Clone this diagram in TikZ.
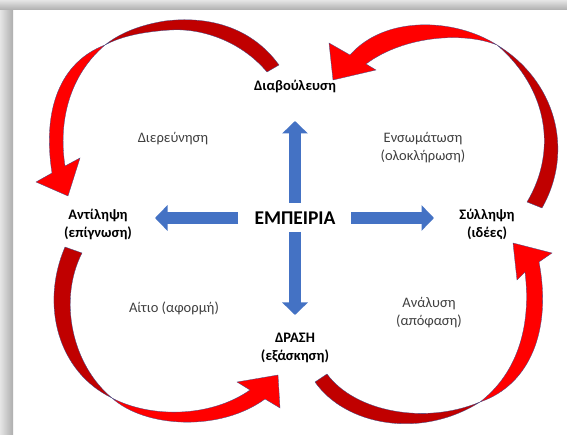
\documentclass[tikz,border=0pt]{standalone}
\usepackage{fontspec}
\setmainfont{Carlito}
\usetikzlibrary{arrows.meta}
\definecolor{blu}{HTML}{4472C4}
\definecolor{dred}{HTML}{C00000}
\definecolor{bred}{HTML}{FF0000}
\definecolor{edgec}{HTML}{3B4E8C}
\tikzset{
 lbl/.style={font=\fontsize{14.5}{17.5}\selectfont\bfseries, align=center, inner sep=0pt},
 sub/.style={font=\fontsize{14.5}{17.5}\selectfont, text=black!75, align=center, inner sep=0pt},
 big/.style={font=\fontsize{19.5}{22}\selectfont\bfseries, inner sep=0pt},
 bluearr/.style={draw=blu, line width=12.5pt, -{Triangle[width=25pt,length=12.5pt]}},
 back/.style={fill=dred, draw=edgec, line width=0.3pt},
 front/.style={fill=bred, draw=edgec, line width=0.3pt},
}
\begin{document}
\begin{tikzpicture}[x=1pt,y=-1pt]
\useasboundingbox (0,0) rectangle (567,435);
\fill[white] (0,0) rectangle (567,435);
\shade[left color=black!10, right color=black!32] (0,0) rectangle (13,435);
\shade[top color=black!10, bottom color=black!32] (0,0) rectangle (567,10);

% labels
\node[lbl] (dia) at (295,86) {Διαβούλευση};
\node[sub] (dier) at (173,139) {Διερεύνηση};
\node[sub] (enso) at (423,147.5) {Ενσωμάτωση\\(ολοκλήρωση)};
\node[lbl] (ant) at (98,224.5) {Αντίληψη\\(επίγνωση)};
\node[big] (emp) at (295,218) {ΕΜΠΕΙΡΙΑ};
\node[lbl] (syl) at (487,224.5) {Σύλληψη\\(ιδέες)};
\node[sub] (ait) at (174,308) {Αίτιο (αφορμή)};
\node[sub] (ana) at (429,312.5) {Ανάλυση\\(απόφαση)};
\node[lbl] (dra) at (295,348) {ΔΡΑΣΗ\\(εξάσκηση)};

% blue arrows
\coordinate (upS) at (295,203); \coordinate (upT) at (295,121);
\coordinate (dnS) at (295,232); \coordinate (dnT) at (295,315);
\coordinate (lfS) at (238,218); \coordinate (lfT) at (155,218);
\coordinate (rtS) at (351,218); \coordinate (rtT) at (434,218);
\draw[bluearr] (upS) -- (upT);
\draw[bluearr] (dnS) -- (dnT);
\draw[bluearr] (lfS) -- (lfT);
\draw[bluearr] (rtS) -- (rtT);

% top-left curved arrow
\path[back] (279,65) .. controls (250,25) and (205,16) .. (165,21) .. controls (140,25) and (120,33) .. (105,45)
  .. controls (120,37) and (140,32) .. (170,30) .. controls (200,28) and (240,40) .. (267,72) -- cycle;
\path[front] (105,45) .. controls (60,62) and (42,110) .. (52,173) -- (36,182) -- (68,196) -- (80,158) -- (65,166)
  .. controls (58,120) and (70,75) .. (105,45) -- cycle;

% top-right curved arrow
\path[back] (542,208) .. controls (575,150) and (555,80) .. (497,45) .. controls (547,88) and (558,150) .. (527,202) -- cycle;
\path[front] (497,45) .. controls (455,18) and (385,15) .. (350,55) -- (329,43) -- (333,80) -- (376,70) -- (366,64)
  .. controls (405,35) and (465,32) .. (497,45) -- cycle;

% bottom-left curved arrow
\path[back] (65,247) .. controls (40,305) and (58,372) .. (112,398) .. controls (72,365) and (58,300) .. (82,253) -- cycle;
\path[front] (112,398) .. controls (145,428) and (220,432) .. (265,399) -- (280,408) -- (278,375) -- (237,382) -- (250,390)
  .. controls (210,418) and (150,418) .. (112,398) -- cycle;

% bottom-right curved arrow
\path[back] (315,382) .. controls (345,425) and (420,440) .. (480,402) .. controls (425,425) and (355,412) .. (327,374) -- cycle;
\path[front] (480,402) .. controls (530,385) and (552,330) .. (539,262) -- (552,253) -- (513,243) -- (517,280) -- (525,272)
  .. controls (532,330) and (515,375) .. (480,402) -- cycle;
\end{tikzpicture}
\end{document}
